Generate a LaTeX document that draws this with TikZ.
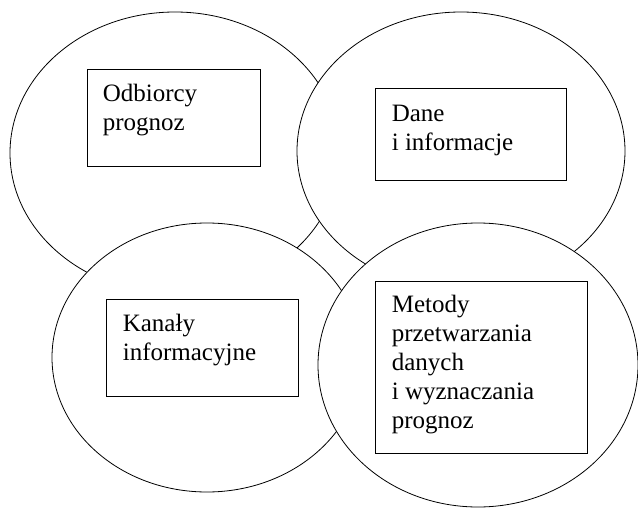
\documentclass[tikz,border=0pt]{standalone}
\usepackage{fontspec}
\setmainfont{Liberation Serif}
\usetikzlibrary{shapes.geometric}

\tikzset{
  oval/.style={ellipse, draw, fill=white, line width=0.8pt, inner sep=0pt},
  box/.style={rectangle, draw, line width=0.8pt},
  txt/.style={anchor=base west, align=left, inner sep=0pt,
    font=\fontsize{25}{29}\selectfont}
}

\begin{document}
\begin{tikzpicture}[x=1pt,y=1pt]
\useasboundingbox (0,0) rectangle (638,-508);
% the four fields, later ones lie on top
\node[oval, minimum width=330pt, minimum height=282pt] (odbOval) at (175,-153) {};
\node[oval, minimum width=328pt, minimum height=278pt] (daneOval) at (461,-151) {};
\node[oval, minimum width=310pt, minimum height=269pt] (kanOval) at (207,-357.5) {};
\node[oval, minimum width=320pt, minimum height=284pt] (metOval) at (478,-365) {};
% frames
\node[box, minimum width=173pt, minimum height=97pt] (odb) at (173.5,-117.5) {};
\node[box, minimum width=191pt, minimum height=92pt] (dane) at (470.5,-134) {};
\node[box, minimum width=192pt, minimum height=97pt] (kan) at (202,-347.5) {};
\node[box, minimum width=212pt, minimum height=172pt] (met) at (481,-367) {};
% texts (base = last line)
\node[txt] (odbText) at ([xshift=16pt,yshift=-62pt]odb.north west) {Odbiorcy\\prognoz};
\node[txt] (daneText) at ([xshift=17pt,yshift=-63pt]dane.north west) {Dane\\i informacje};
\node[txt] (kanText) at ([xshift=17pt,yshift=-62pt]kan.north west) {Kanały\\informacyjne};
\node[txt] (metText) at ([xshift=17pt,yshift=-148pt]met.north west) {Metody\\przetwarzania\\danych\\i wyznaczania\\prognoz};
\end{tikzpicture}
\end{document}
